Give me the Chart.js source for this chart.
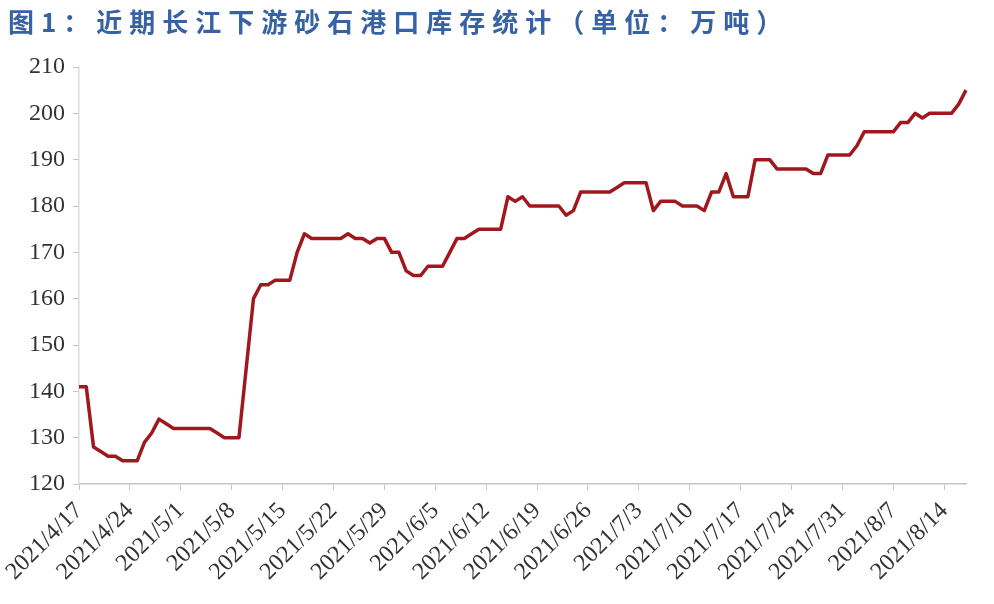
<!DOCTYPE html>
<html>
<head>
<meta charset="utf-8">
<script src="https://cdn.jsdelivr.net/npm/chart.js@4.4.0/dist/chart.umd.min.js"></script>
<style>
  html, body { margin: 0; padding: 0; background: #fff; }
  #wrap { position: relative; width: 994px; height: 604px; }
  #title {
    position: absolute; left: 8px; top: 2px;
    font-family: "Noto Sans CJK SC", sans-serif;
    font-size: 26px; letter-spacing: 7px; font-weight: bold;
    color: #3762a3;
  }
  #inv_chart { position: absolute; left: 0; top: 0; }
</style>
</head>
<body>
<div id="wrap">
  <canvas id="inv_chart" width="994" height="604"></canvas>
  <div id="title">图1：近期长江下游砂石港口库存统计（单位：万吨）</div>
</div>
<script>
// daily stock, 2021/4/17 .. 2021/8/17 (万吨)
var startDate = [2021, 4, 17];
var stock = [
  141, 141, 128, 127, 126, 126, 125,
  125, 125, 129, 131, 134, 133, 132,
  132, 132, 132, 132, 132, 131, 130,
  130, 130, 145, 160, 163, 163, 164,
  164, 164, 170, 174, 173, 173, 173,
  173, 173, 174, 173, 173, 172, 173,
  173, 170, 170, 166, 165, 165, 167,
  167, 167, 170, 173, 173, 174, 175,
  175, 175, 175, 182, 181, 182, 180,
  180, 180, 180, 180, 178, 179, 183,
  183, 183, 183, 183, 184, 185, 185,
  185, 185, 179, 181, 181, 181, 180,
  180, 180, 179, 183, 183, 187, 182,
  182, 182, 190, 190, 190, 188, 188,
  188, 188, 188, 187, 187, 191, 191,
  191, 191, 193, 196, 196, 196, 196,
  196, 198, 198, 200, 199, 200, 200,
  200, 200, 202, 205
];
var labelEvery = 7;
var yMin = 120, yMax = 210, yStep = 10;

var dates = [];
for (var i = 0; i < stock.length; i++) {
  var d = new Date(startDate[0], startDate[1] - 1, startDate[2] + i);
  dates.push(d.getFullYear() + '/' + (d.getMonth() + 1) + '/' + d.getDate());
}

var serif = 'Liberation Serif';

new Chart(document.getElementById('inv_chart'), {
  type: 'line',
  data: {
    labels: dates,
    datasets: [{
      label: '库存',
      data: stock,
      borderColor: '#a0181d',
      borderWidth: 3.5,
      borderJoinStyle: 'round',
      pointRadius: 0,
      tension: 0,
      fill: false
    }]
  },
  options: {
    responsive: false,
    animation: false,
    layout: { padding: { top: 67, right: 28, left: 0, bottom: 0 } },
    plugins: {
      legend: { display: false },
      tooltip: { enabled: false }
    },
    scales: {
      x: {
        offset: false,
        afterFit: function(scale) { scale.height = 120; },
        border: { display: true, color: '#c4c4c4', width: 1.5 },
        grid: {
          drawOnChartArea: false,
          drawTicks: true,
          tickLength: 6,
          tickColor: function(ctx) {
            return ctx.index % labelEvery === 0 ? '#c4c4c4' : 'rgba(0,0,0,0)';
          }
        },
        ticks: {
          autoSkip: false,
          maxRotation: 45,
          minRotation: 45,
          padding: 7,
          color: '#333',
          font: { family: serif, size: 24 },
          callback: function(val, index) {
            return index % labelEvery === 0 ? this.getLabelForValue(val) : '';
          }
        }
      },
      y: {
        min: yMin,
        max: yMax,
        afterFit: function(scale) { scale.width = 79; },
        border: { display: true, color: '#dcdcdc', width: 1.5 },
        grid: {
          drawOnChartArea: false,
          drawTicks: true,
          tickLength: 6,
          tickColor: '#c4c4c4'
        },
        ticks: {
          stepSize: yStep,
          padding: 8,
          color: '#333',
          font: { family: serif, size: 24 }
        }
      }
    }
  }
});
</script>
</body>
</html>
